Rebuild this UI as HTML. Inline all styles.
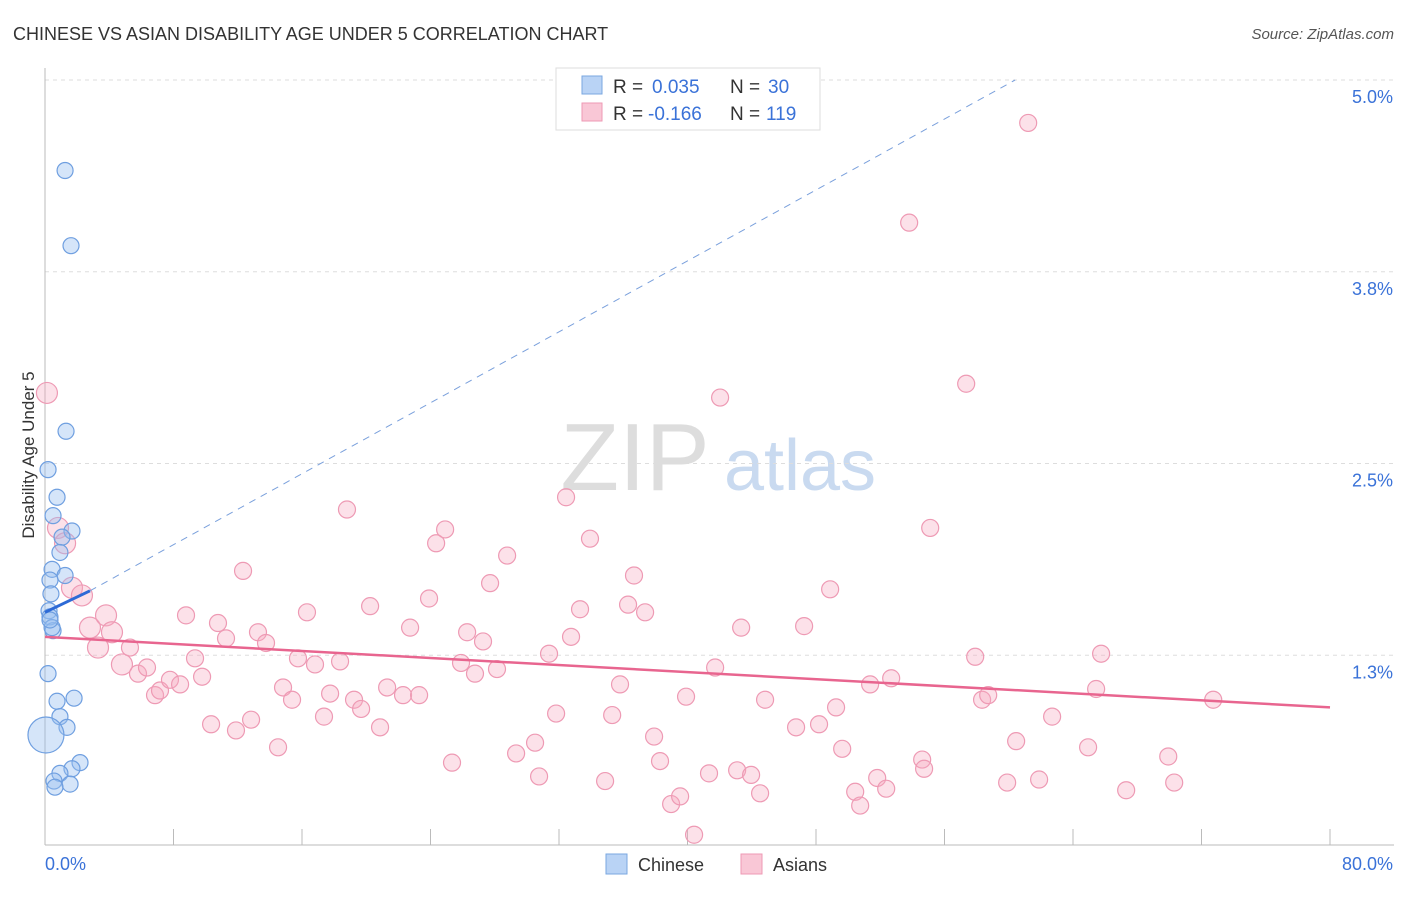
<!DOCTYPE html>
<html><head><meta charset="utf-8"><style>
body{margin:0;background:#fff;font-family:"Liberation Sans",sans-serif;}
svg text{font-family:"Liberation Sans",sans-serif;}
</style></head><body>
<svg id="chart" width="1406" height="892" xmlns="http://www.w3.org/2000/svg">
<text x="13" y="40" font-size="18" fill="#333">CHINESE VS ASIAN DISABILITY AGE UNDER 5 CORRELATION CHART</text>
<text x="1394" y="39" font-size="15" fill="#555" text-anchor="end" font-style="italic">Source: ZipAtlas.com</text>
<g>
<text x="635" y="490" font-size="96" fill="#ddd" text-anchor="middle" font-family="Liberation Serif, serif">ZIP</text>
<text x="800" y="490" font-size="72" fill="#c9daf0" text-anchor="middle">atlas</text>
</g>
<g id="grid"></g>
<g id="axes"></g>
<g id="marks"></g>
<g id="trends"></g>
<text transform="translate(34,455) rotate(-90)" font-size="17" fill="#333" text-anchor="middle">Disability Age Under 5</text>
<g>
<rect x="556" y="68" width="264" height="62" fill="#fff" stroke="#ddd"/>
<rect x="582" y="76" width="20" height="18" fill="#b9d3f5" stroke="#7aa7e0"/>
<rect x="582" y="103" width="20" height="18" fill="#f9c7d6" stroke="#ee9ab4"/>
<text x="613" y="93" font-size="19" fill="#333">R = </text><text x="652" y="93" font-size="19" fill="#3a72d8">0.035</text>
<text x="730" y="93" font-size="19" fill="#333">N = </text><text x="768" y="93" font-size="19" fill="#3a72d8">30</text>
<text x="613" y="120" font-size="19" fill="#333">R = </text><text x="648" y="120" font-size="19" fill="#3a72d8">-0.166</text>
<text x="730" y="120" font-size="19" fill="#333">N = </text><text x="766" y="120" font-size="19" fill="#3a72d8">119</text>
</g>
<g>
<rect x="606" y="854" width="21" height="20" fill="#b9d3f5" stroke="#7aa7e0"/>
<text x="638" y="871" font-size="18" fill="#333">Chinese</text>
<rect x="741" y="854" width="21" height="20" fill="#f9c7d6" stroke="#ee9ab4"/>
<text x="773" y="871" font-size="18" fill="#333">Asians</text>
</g>
</svg>
<script>
const yTicks=[1.25,2.5,3.75,5.0];
const yTickLabels=["1.3%","2.5%","3.8%","5.0%"];
const xTickVals=[0,8,16,24,32,40,48,56,64,72,80];
const chineseX=[1.25,1.62,1.31,0.19,0.75,0.50,1.68,1.06,0.93,0.44,1.25,0.31,0.37,0.25,0.31,0.50,0.19,0.75,1.81,0.93,1.37,0.06,2.18,1.68,0.93,0.56,1.56,0.62,0.44,0.31];
const chineseY=[4.41,3.92,2.71,2.46,2.28,2.16,2.06,2.02,1.92,1.81,1.77,1.74,1.65,1.54,1.50,1.41,1.13,0.95,0.97,0.85,0.78,0.73,0.55,0.51,0.48,0.43,0.41,0.39,1.43,1.48];
const asianX=[0.12,0.81,1.25,1.68,2.30,2.80,3.30,3.80,4.17,4.79,5.29,5.79,6.35,6.85,7.16,7.78,8.41,8.78,9.34,9.78,10.34,10.77,11.27,11.89,12.33,12.83,13.26,13.76,14.51,14.82,15.38,15.75,16.31,16.81,17.37,17.75,18.37,18.80,19.24,19.68,20.24,20.86,21.30,22.29,22.73,23.29,23.91,24.35,24.91,25.34,25.90,26.28,26.77,27.27,27.71,28.14,28.77,29.33,30.51,30.76,31.38,31.82,32.44,32.75,33.31,33.93,34.87,35.31,35.80,36.30,36.67,37.36,37.92,38.29,38.98,39.54,39.91,40.41,41.34,41.72,42.03,43.09,43.34,43.96,44.52,44.83,46.76,47.26,48.19,48.88,49.25,49.63,50.44,50.75,51.37,51.81,52.37,52.68,53.80,54.61,54.73,55.11,57.35,57.91,58.34,58.72,59.90,60.46,61.21,61.89,62.70,64.94,65.44,65.75,67.31,69.93,70.30,72.73];
const asianY=[2.96,2.08,1.98,1.69,1.64,1.43,1.30,1.51,1.40,1.19,1.30,1.13,1.17,0.99,1.02,1.09,1.06,1.51,1.23,1.11,0.80,1.46,1.36,0.76,1.80,0.83,1.40,1.33,0.65,1.04,0.96,1.23,1.53,1.19,0.85,1.00,1.21,2.20,0.96,0.90,1.57,0.78,1.04,0.99,1.43,0.99,1.62,1.98,2.07,0.55,1.20,1.40,1.13,1.34,1.72,1.16,1.90,0.61,0.68,0.46,1.26,0.87,2.28,1.37,1.55,2.01,0.43,0.86,1.06,1.58,1.77,1.53,0.72,0.56,0.28,0.33,0.98,0.08,0.48,1.17,2.93,0.50,1.43,0.47,0.35,0.96,0.78,1.44,0.80,1.68,0.91,0.64,0.36,0.27,1.06,0.45,0.38,1.10,4.07,0.57,0.51,2.08,3.02,1.24,0.96,0.99,0.42,0.69,4.72,0.44,0.85,0.65,1.03,1.26,0.37,0.59,0.42,0.96];
const blueTrend=[0,1.53,2.8,1.67];
const blueDash=[2.8,1.67,60.4,5.0];
const pinkTrend=[0,1.37,80,0.91];
const NS="http://www.w3.org/2000/svg";
const X=v=>45+v/80*1285, Y=v=>847-v*153.4;
function mk(p,t,a){const e=document.createElementNS(NS,t);for(const k in a)e.setAttribute(k,a[k]);document.getElementById(p).appendChild(e);return e;}
yTicks.forEach((t,i)=>{
 const g=mk('grid','line',{x1:45,x2:1394,y1:Y(t),y2:Y(t),stroke:'#ddd','stroke-dasharray':'4,4'});
 
 
 const l=mk('axes','text',{x:1393,y:Y(t)+23,'font-size':18,fill:'#3a72d8','text-anchor':'end'});l.textContent=yTickLabels[i];
 
 
});
const ax=mk('axes','line',{x1:45,x2:1394,y1:845,y2:845,stroke:'#bbb'});


const ay=mk('axes','line',{x1:45,x2:45,y1:68,y2:845,stroke:'#bbb'});


xTickVals.forEach(v=>{const t=mk('axes','line',{x1:X(v),x2:X(v),y1:829,y2:845,stroke:'#bbb'});
 
 });
const xl0=mk('axes','text',{x:45,y:870,'font-size':18,fill:'#3a72d8'});xl0.textContent="0.0%";


const xl1=mk('axes','text',{x:1393,y:870,'font-size':18,fill:'#3a72d8','text-anchor':'end'});xl1.textContent="80.0%";


asianX.forEach((x,i)=>{const c=mk('marks','circle',{cx:X(x),cy:Y(asianY[i]),r:(x<5?10.5:8.5),fill:'rgba(246,168,192,0.35)',stroke:'#ee9ab4','stroke-width':1.2});
 
 });
chineseX.forEach((x,i)=>{const c=mk('marks','circle',{cx:X(x),cy:Y(chineseY[i]),r:(i==21?18:8),fill:'rgba(150,190,240,0.4)',stroke:'#6f9fe0','stroke-width':1.2});
 
 });
const bd=mk('trends','line',{x1:X(blueDash[0]),y1:Y(blueDash[1]),x2:X(blueDash[2]),y2:Y(blueDash[3]),stroke:'#7aa0dc','stroke-dasharray':'7,6','stroke-width':1});


const bt=mk('trends','line',{x1:X(blueTrend[0]),y1:Y(blueTrend[1]),x2:X(blueTrend[2]),y2:Y(blueTrend[3]),stroke:'#2d6ad6','stroke-width':3});


const pt=mk('trends','line',{x1:X(pinkTrend[0]),y1:Y(pinkTrend[1]),x2:X(pinkTrend[2]),y2:Y(pinkTrend[3]),stroke:'#e8658f','stroke-width':2.5});


</script>
</body></html>
